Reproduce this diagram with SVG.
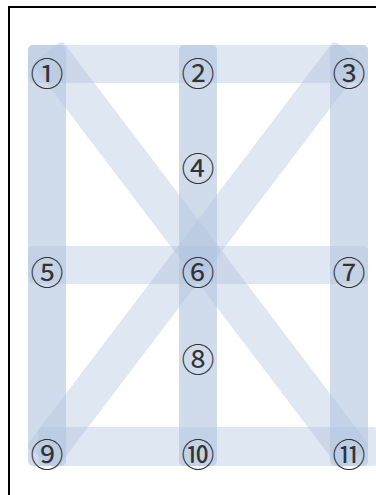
<svg xmlns="http://www.w3.org/2000/svg" width="376" height="495" viewBox="0 0 376 495">
<style>
.band{fill:rgb(176,196,222);fill-opacity:0.4}
.col{fill:rgb(176,196,222);fill-opacity:0.6}
.lbl{font-family:"Noto Sans CJK SC","DejaVu Sans",sans-serif;font-size:33px;fill:#333;text-anchor:middle;dominant-baseline:central}
</style>
<rect x="0" y="0" width="376" height="495" fill="#fff"/>
<rect x="9" y="7" width="390" height="510" fill="none" stroke="#000" stroke-width="2"/>
<g id="connectors">
<rect class="col" x="28" y="45" width="38" height="421" rx="5"/>
<rect class="col" x="179" y="45" width="38" height="421" rx="5"/>
<rect class="col" x="330" y="45" width="38" height="421" rx="5"/>
<rect class="band" x="28" y="45" width="340" height="38" rx="5"/>
<rect class="band" x="28" y="246" width="340" height="38" rx="5"/>
<rect class="band" x="38" y="427" width="340" height="39" rx="5"/>
<rect class="band" x="0" y="-19" width="509.6" height="38" rx="5" transform="translate(47,52) rotate(52.8)"/>
<rect class="band" x="0" y="-19" width="509.6" height="38" rx="5" transform="translate(349,52) rotate(127.2)"/>
</g>
<g id="n1"><text class="lbl" x="47" y="72">①</text></g>
<g id="n2"><text class="lbl" x="198" y="72">②</text></g>
<g id="n3"><text class="lbl" x="349" y="72">③</text></g>
<g id="n4"><text class="lbl" x="198" y="167">④</text></g>
<g id="n5"><text class="lbl" x="47" y="271">⑤</text></g>
<g id="n6"><text class="lbl" x="198" y="271">⑥</text></g>
<g id="n7"><text class="lbl" x="349" y="271">⑦</text></g>
<g id="n8"><text class="lbl" x="198" y="358">⑧</text></g>
<g id="n9"><text class="lbl" x="47" y="453">⑨</text></g>
<g id="n10"><text class="lbl" x="198" y="453">⑩</text></g>
<g id="n11"><text class="lbl" x="349" y="453">⑪</text></g>
</svg>
